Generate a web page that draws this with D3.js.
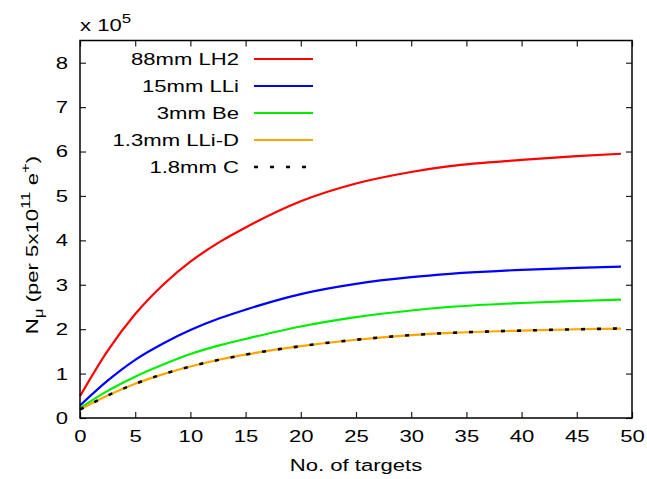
<!DOCTYPE html>
<html>
<head>
<meta charset="utf-8">
<script src="https://cdn.jsdelivr.net/npm/d3@7"></script>
<style>
  body { margin: 0; background: #fff; }
  svg { font-family: "Liberation Sans", Arial, sans-serif; }
</style>
</head>
<body>
<div id="chart"></div>
<script>
// values (units of 1e5)
const targets = [0, 2.5, 5, 7.7, 10, 12.7, 15, 20, 25, 30, 33.5, 40, 45, 49];
const lh2 = [0.49, 1.51, 2.34, 3.04, 3.52, 3.97, 4.29, 4.88, 5.28, 5.54, 5.67, 5.81, 5.895, 5.95];
const lli = [0.28, 0.84, 1.31, 1.70, 1.98, 2.25, 2.44, 2.79, 3.02, 3.17, 3.245, 3.335, 3.38, 3.41];
const be = [0.22, 0.61, 0.93, 1.22, 1.44, 1.64, 1.78, 2.06, 2.27, 2.42, 2.50, 2.59, 2.635, 2.665];
const lliD = [0.19, 0.505, 0.77, 1.00, 1.16, 1.317, 1.427, 1.617, 1.762, 1.867, 1.916, 1.968, 1.998, 2.015];
const carbon = [0.19, 0.505, 0.77, 1.00, 1.16, 1.317, 1.427, 1.617, 1.762, 1.867, 1.916, 1.968, 1.998, 2.015];

const seriesNames = ["88mm LH2", "15mm LLi", "3mm Be", "1.3mm LLi-D", "1.8mm C"];
const xTicks = [0, 5, 10, 15, 20, 25, 30, 35, 40, 45, 50];
const yTicks = [0, 1, 2, 3, 4, 5, 6, 7, 8];

const series = [
  { name: seriesNames[0], values: lh2, color: "#ff0000", dash: null },
  { name: seriesNames[1], values: lli, color: "#0000ff", dash: null },
  { name: seriesNames[2], values: be, color: "#00ee00", dash: null },
  { name: seriesNames[3], values: lliD, color: "#ffa500", dash: null },
  { name: seriesNames[4], values: carbon, color: "#000000", dash: "4,12" }
];

const W = 647, H = 479;
const margin = { top: 40.5, right: 15, bottom: 61, left: 80 };
const width = W - margin.left - margin.right;
const height = H - margin.top - margin.bottom;
const stretch = 1.3; // the reference font runs wide

const svg = d3.select("#chart").append("svg")
  .attr("width", W)
  .attr("height", H);

const g = svg.append("g")
  .attr("transform", `translate(${margin.left},${margin.top})`);

const x = d3.scaleLinear().domain([0, 50]).range([0, width]);
const y = d3.scaleLinear().domain([0, 8.5]).range([height, 0]);

// widen a text element along its baseline, keeping its anchor point
const widen = (sel) => sel.each(function() {
  const t = d3.select(this);
  const tx = +t.attr("x") || 0;
  t.attr("x", tx / stretch).attr("transform", `scale(${stretch},1)`);
});

// gnuplot style inward ticks on all four sides
const tickLen = 6;
g.append("g")
  .attr("transform", `translate(0,${height})`)
  .call(d3.axisBottom(x).tickValues(xTicks).tickSizeInner(-tickLen).tickSizeOuter(0).tickPadding(12))
  .call(a => a.select(".domain").remove());
g.append("g")
  .call(d3.axisTop(x).tickValues(xTicks).tickSizeInner(-tickLen).tickSizeOuter(0).tickFormat(""))
  .call(a => a.select(".domain").remove());
g.append("g")
  .call(d3.axisLeft(y).tickValues(yTicks).tickSizeInner(-tickLen).tickSizeOuter(0).tickPadding(12))
  .call(a => a.select(".domain").remove());
g.append("g")
  .attr("transform", `translate(${width},0)`)
  .call(d3.axisRight(y).tickValues(yTicks).tickSizeInner(-tickLen).tickSizeOuter(0).tickFormat(""))
  .call(a => a.select(".domain").remove());

g.selectAll(".tick line").attr("stroke", "#222").attr("stroke-width", 1.2);
g.selectAll(".tick text")
  .attr("font-size", "17px")
  .attr("font-family", "Liberation Sans, Arial, sans-serif")
  .attr("fill", "#000")
  .call(widen);

// curves
const line = d3.line()
  .x((d, i) => x(targets[i]))
  .y(d => y(d))
  .curve(d3.curveMonotoneX);

g.selectAll(".curve")
  .data(series)
  .enter().append("path")
  .attr("class", "curve")
  .attr("fill", "none")
  .attr("stroke", d => d.color)
  .attr("stroke-width", d => d.dash ? 2.6 : 2.2)
  .attr("stroke-dasharray", d => d.dash)
  .attr("d", d => line(d.values));

// frame
g.append("rect")
  .attr("width", width)
  .attr("height", height)
  .attr("fill", "none")
  .attr("stroke", "#000")
  .attr("stroke-width", 1.5);

// legend
const legend = svg.append("g").attr("font-size", "17px");
series.forEach((s, i) => {
  const ly = 59 + i * 27;
  legend.append("g")
    .attr("transform", `translate(239,${ly + 6})`)
    .append("text")
    .attr("text-anchor", "end")
    .text(s.name)
    .call(widen);
  legend.append("line")
    .attr("x1", 254)
    .attr("x2", 313)
    .attr("y1", ly)
    .attr("y2", ly)
    .attr("stroke", s.color)
    .attr("stroke-width", s.dash ? 2.6 : 2.2)
    .attr("stroke-dasharray", s.dash);
});

// multiplier
const mult = svg.append("g")
  .attr("transform", "translate(80,31)")
  .append("text")
  .attr("font-size", "17px")
  .call(widen);
mult.append("tspan").text("x 10");
mult.append("tspan").attr("dy", -8).attr("font-size", "13px").text("5");

// axis labels
svg.append("g")
  .attr("transform", `translate(${margin.left + width / 2},471)`)
  .append("text")
  .attr("text-anchor", "middle")
  .attr("font-size", "17px")
  .text("No. of targets")
  .call(widen);

const ylab = svg.append("g")
  .attr("transform", "translate(38,245) rotate(-90)")
  .append("text")
  .attr("text-anchor", "middle")
  .attr("font-size", "17px")
  .call(widen);
ylab.append("tspan").text("N");
ylab.append("tspan").attr("dy", 5).attr("font-size", "13px").text("μ");
ylab.append("tspan").attr("dy", -5).text(" (per 5x10");
ylab.append("tspan").attr("dy", -8).attr("font-size", "13px").text("11");
ylab.append("tspan").attr("dy", 8).text(" e");
ylab.append("tspan").attr("dy", -8).attr("font-size", "13px").text("+");
ylab.append("tspan").attr("dy", 8).text(")");
</script>
</body>
</html>
